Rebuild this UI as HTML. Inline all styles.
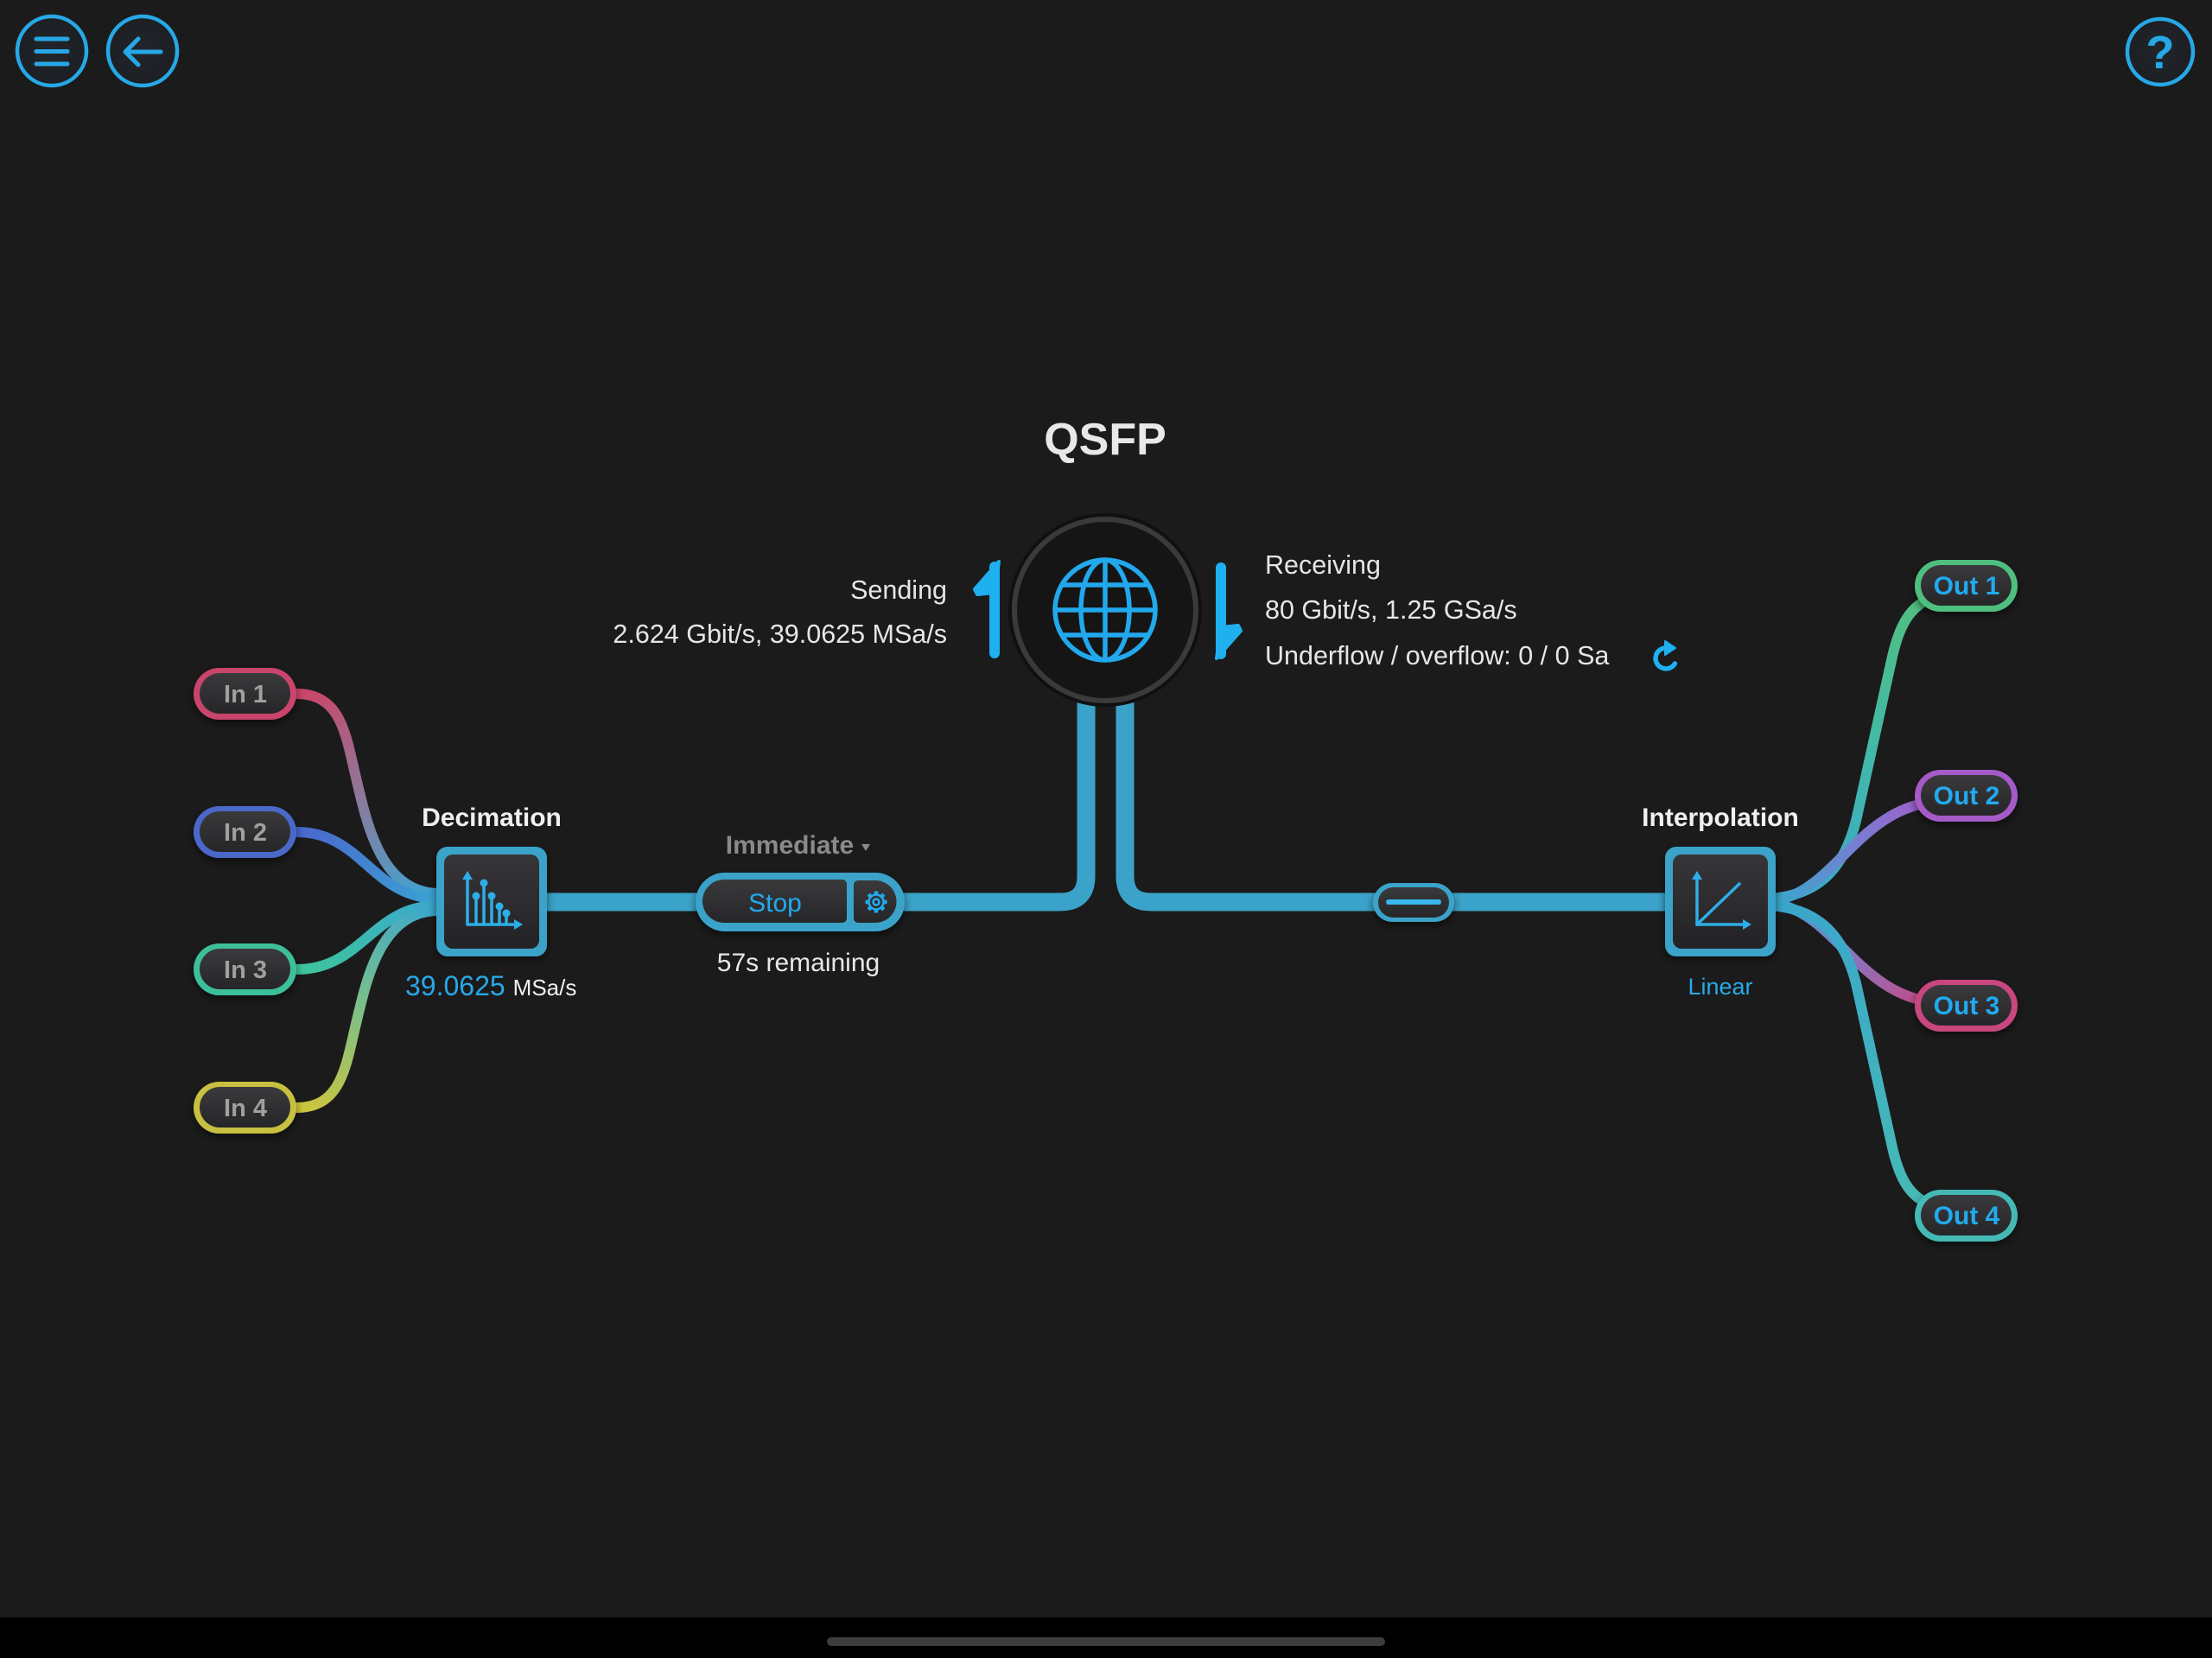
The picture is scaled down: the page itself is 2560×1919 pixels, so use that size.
<!DOCTYPE html>
<html>
<head>
<meta charset="utf-8">
<style>
  html,body{margin:0;padding:0;background:#1b1b1b;}
  body{width:2560px;height:1919px;overflow:hidden;}
  svg{display:block;}
  text{font-family:"Liberation Sans", Arial, sans-serif;}
</style>
</head>
<body>
<svg width="2560" height="1919" viewBox="0 0 2560 1919" xmlns="http://www.w3.org/2000/svg">
  <defs>
    <linearGradient id="innerDark" x1="0" y1="0" x2="0" y2="1">
      <stop offset="0" stop-color="#373538"/>
      <stop offset="1" stop-color="#232225"/>
    </linearGradient>
    <linearGradient id="pillDark" x1="0" y1="0" x2="0" y2="1">
      <stop offset="0" stop-color="#3a3a3c"/>
      <stop offset="1" stop-color="#262628"/>
    </linearGradient>
    <radialGradient id="btnFill" cx="0.5" cy="0.5" r="0.5">
      <stop offset="0" stop-color="#22262c"/>
      <stop offset="1" stop-color="#1c1f23"/>
    </radialGradient>
    <filter id="sh" x="-30%" y="-30%" width="160%" height="170%">
      <feDropShadow dx="0" dy="4" stdDeviation="5" flood-color="#000" flood-opacity="0.55"/>
    </filter>

    <linearGradient id="gIn1" gradientUnits="userSpaceOnUse" x1="343" y1="803" x2="505" y2="1038">
      <stop offset="0" stop-color="#cc4468"/>
      <stop offset="0.5" stop-color="#8c7a9c"/>
      <stop offset="1" stop-color="#3aa6d2"/>
    </linearGradient>
    <linearGradient id="gIn2" gradientUnits="userSpaceOnUse" x1="343" y1="963" x2="505" y2="1040">
      <stop offset="0" stop-color="#4a66cc"/>
      <stop offset="1" stop-color="#3aa2d4"/>
    </linearGradient>
    <linearGradient id="gIn3" gradientUnits="userSpaceOnUse" x1="343" y1="1122" x2="505" y2="1048">
      <stop offset="0" stop-color="#3ec69a"/>
      <stop offset="1" stop-color="#3aa8cc"/>
    </linearGradient>
    <linearGradient id="gIn4" gradientUnits="userSpaceOnUse" x1="343" y1="1282" x2="505" y2="1054">
      <stop offset="0" stop-color="#cfc63a"/>
      <stop offset="0.5" stop-color="#7cbf8a"/>
      <stop offset="1" stop-color="#3aa8cc"/>
    </linearGradient>

    <linearGradient id="gOut1" gradientUnits="userSpaceOnUse" x1="2055" y1="1043" x2="2235" y2="690">
      <stop offset="0" stop-color="#3aa6cc"/>
      <stop offset="0.5" stop-color="#42b8aa"/>
      <stop offset="1" stop-color="#52c07e"/>
    </linearGradient>
    <linearGradient id="gOut2" gradientUnits="userSpaceOnUse" x1="2055" y1="1042" x2="2240" y2="928">
      <stop offset="0" stop-color="#3aa6cc"/>
      <stop offset="0.55" stop-color="#7a7cd2"/>
      <stop offset="1" stop-color="#a55ac8"/>
    </linearGradient>
    <linearGradient id="gOut3" gradientUnits="userSpaceOnUse" x1="2055" y1="1046" x2="2240" y2="1160">
      <stop offset="0" stop-color="#3aa6cc"/>
      <stop offset="0.5" stop-color="#8a74c0"/>
      <stop offset="1" stop-color="#c8467e"/>
    </linearGradient>
    <linearGradient id="gOut4" gradientUnits="userSpaceOnUse" x1="2055" y1="1048" x2="2240" y2="1396">
      <stop offset="0" stop-color="#3aa6cc"/>
      <stop offset="1" stop-color="#46bab4"/>
    </linearGradient>
  </defs>

  <rect x="0" y="0" width="2560" height="1919" fill="#1b1b1b"/>
  <rect x="0" y="1872" width="2560" height="47" fill="#000"/>
  <rect x="957" y="1895" width="646" height="10" rx="5" fill="#3d3d3d"/>

  <circle cx="60" cy="59" r="40" fill="url(#btnFill)" stroke="#27a8e6" stroke-width="4.5"/>
  <g stroke="#27a8e6" stroke-width="5" stroke-linecap="round">
    <line x1="42" y1="45" x2="78" y2="45"/>
    <line x1="42" y1="59.5" x2="78" y2="59.5"/>
    <line x1="42" y1="74" x2="78" y2="74"/>
  </g>
  <circle cx="165" cy="59" r="40" fill="url(#btnFill)" stroke="#27a8e6" stroke-width="4.5"/>
  <g stroke="#27a8e6" stroke-width="5" stroke-linecap="round" stroke-linejoin="round" fill="none">
    <line x1="146" y1="60" x2="186" y2="60"/>
    <polyline points="160,45 145,60 160,75"/>
  </g>
  <circle cx="2500" cy="60" r="38" fill="url(#btnFill)" stroke="#27a8e6" stroke-width="4.5"/>
  <text x="2500" y="79" text-anchor="middle" font-size="54" font-weight="bold" fill="#27a8e6">?</text>

  <text x="1279" y="526" text-anchor="middle" font-size="52" font-weight="bold" fill="#e8e8e8">QSFP</text>

  <g fill="none" stroke="#3ba3c9" stroke-width="21">
    <path d="M 1257 790 L 1257 1014 Q 1257 1044 1227 1044 L 630 1044"/>
    <path d="M 1302 790 L 1302 1014 Q 1302 1044 1332 1044 L 1930 1044"/>
  </g>

  <circle cx="1279" cy="706" r="110" fill="none" stroke="#101010" stroke-width="4"/>
  <circle cx="1279" cy="706" r="105" fill="#151515" stroke="#3a3a3b" stroke-width="6"/>
  <g fill="none" stroke="#22a8ec" stroke-width="5.5">
    <circle cx="1279" cy="706" r="58"/>
    <ellipse cx="1279" cy="706" rx="28" ry="58"/>
    <line x1="1279" y1="648" x2="1279" y2="764"/>
    <line x1="1221" y1="706" x2="1337" y2="706"/>
    <line x1="1230" y1="677" x2="1328" y2="677"/>
    <line x1="1230" y1="735" x2="1328" y2="735"/>
  </g>

  <g fill="#1fb0f0" stroke="#1fb0f0" stroke-linejoin="round" stroke-linecap="round">
    <line x1="1151" y1="656" x2="1151" y2="756" stroke-width="12"/>
    <polygon points="1156,650 1128,682 1131,688 1151,686" stroke-width="4"/>
    <line x1="1413" y1="657" x2="1413" y2="757" stroke-width="12"/>
    <polygon points="1408,762 1436,730 1433,724 1413,726" stroke-width="4"/>
  </g>

  <text x="1096" y="693" text-anchor="end" font-size="30.5" fill="#e6e6e6">Sending</text>
  <text x="1096" y="744" text-anchor="end" font-size="30.5" fill="#e6e6e6">2.624 Gbit/s, 39.0625 MSa/s</text>

  <text x="1464" y="664" font-size="30.5" fill="#e6e6e6">Receiving</text>
  <text x="1464" y="716" font-size="30.5" fill="#e6e6e6">80 Gbit/s, 1.25 GSa/s</text>
  <text x="1464" y="769" font-size="30.5" fill="#e6e6e6">Underflow / overflow: 0 / 0 Sa</text>

  <g fill="none" stroke="#1fb0f0" stroke-width="5.5" stroke-linecap="round">
    <path d="M 1938.4 768 A 12 12 0 1 1 1929 750"/>
  </g>
  <polygon points="1927,742 1927,758 1939,750" fill="#1fb0f0" stroke="#1fb0f0" stroke-width="2" stroke-linejoin="round"/>

  <g fill="none" stroke-width="12" stroke-linecap="round">
    <path d="M 343 803 C 395 803 400 850 412 900 S 440 1034 508 1034" stroke="url(#gIn1)"/>
    <path d="M 343 963 C 420 963 430 1040 508 1040" stroke="url(#gIn2)"/>
    <path d="M 343 1122 C 420 1122 430 1048 508 1048" stroke="url(#gIn3)"/>
    <path d="M 343 1282 C 395 1282 400 1235 412 1185 S 440 1054 508 1054" stroke="url(#gIn4)"/>
  </g>

  <g fill="none" stroke-width="12" stroke-linecap="round">
    <path d="M 2050 1040 C 2110 1035 2135 1000 2148 950 L 2190 760 C 2198 725 2210 700 2240 690" stroke="url(#gOut1)"/>
    <path d="M 2050 1042 C 2120 1038 2150 935 2240 928" stroke="url(#gOut2)"/>
    <path d="M 2050 1046 C 2120 1050 2150 1153 2240 1160" stroke="url(#gOut3)"/>
    <path d="M 2050 1048 C 2110 1053 2135 1088 2148 1138 L 2190 1328 C 2198 1363 2210 1388 2240 1396" stroke="url(#gOut4)"/>
  </g>

  <g filter="url(#sh)">
    <rect x="224" y="773" width="119" height="60" rx="30" fill="#c9446c"/>
    <rect x="224" y="933" width="119" height="60" rx="30" fill="#4a68c8"/>
    <rect x="224" y="1092" width="119" height="60" rx="30" fill="#3ec09a"/>
    <rect x="224" y="1252" width="119" height="60" rx="30" fill="#c8c040"/>
  </g>
  <g fill="url(#pillDark)">
    <rect x="231" y="779" width="105" height="47" rx="23.5"/>
    <rect x="231" y="939" width="105" height="47" rx="23.5"/>
    <rect x="231" y="1098" width="105" height="47" rx="23.5"/>
    <rect x="231" y="1258" width="105" height="47" rx="23.5"/>
  </g>
  <g font-size="29" font-weight="bold" fill="#a0a0a0" text-anchor="middle">
    <text x="284" y="813">In 1</text>
    <text x="284" y="973">In 2</text>
    <text x="284" y="1132">In 3</text>
    <text x="284" y="1292">In 4</text>
  </g>

  <g filter="url(#sh)">
    <rect x="2216" y="648" width="119" height="60" rx="30" fill="#4fbf7f"/>
    <rect x="2216" y="891" width="119" height="60" rx="30" fill="#a55ac8"/>
    <rect x="2216" y="1134" width="119" height="60" rx="30" fill="#c8467e"/>
    <rect x="2216" y="1377" width="119" height="60" rx="30" fill="#45b9b5"/>
  </g>
  <g fill="url(#pillDark)">
    <rect x="2223" y="654" width="105" height="47" rx="23.5"/>
    <rect x="2223" y="897" width="105" height="47" rx="23.5"/>
    <rect x="2223" y="1140" width="105" height="47" rx="23.5"/>
    <rect x="2223" y="1383" width="105" height="47" rx="23.5"/>
  </g>
  <g font-size="30" font-weight="bold" fill="#22aaee" text-anchor="middle">
    <text x="2276" y="688">Out 1</text>
    <text x="2276" y="931">Out 2</text>
    <text x="2276" y="1174">Out 3</text>
    <text x="2276" y="1417">Out 4</text>
  </g>

  <text x="569" y="956" text-anchor="middle" font-size="30" font-weight="bold" fill="#f0f0f0">Decimation</text>
  <rect x="505" y="980" width="128" height="127" rx="13" fill="#3ba3c9" filter="url(#sh)"/>
  <rect x="514" y="989" width="110" height="109" rx="10" fill="url(#innerDark)"/>
  <g stroke="#2eaee8" stroke-width="3.5" fill="none" stroke-linecap="round">
    <line x1="541" y1="1014" x2="541" y2="1070"/>
    <line x1="541" y1="1070" x2="598" y2="1070"/>
    <line x1="551" y1="1037" x2="551" y2="1070"/>
    <line x1="560" y1="1022" x2="560" y2="1070"/>
    <line x1="569" y1="1037" x2="569" y2="1070"/>
    <line x1="578" y1="1049" x2="578" y2="1070"/>
    <line x1="586" y1="1057" x2="586" y2="1070"/>
  </g>
  <g fill="#2eaee8">
    <polygon points="541,1008 535,1018 547,1018"/>
    <polygon points="605,1070 595,1064 595,1076"/>
    <circle cx="551" cy="1037" r="4.5"/>
    <circle cx="560" cy="1022" r="4.5"/>
    <circle cx="569" cy="1037" r="4.5"/>
    <circle cx="578" cy="1049" r="4.5"/>
    <circle cx="586" cy="1057" r="4.5"/>
  </g>
  <text x="469" y="1152" font-size="32" fill="#27a9e8">39.0625<tspan font-size="26" fill="#f0f0f0" dx="9">MSa/s</tspan></text>

  <text x="914" y="988" text-anchor="middle" font-size="30" font-weight="bold" fill="#8a8a8a">Immediate</text>
  <polygon points="997,977 1007,977 1002,985" fill="#8a8a8a"/>
  <rect x="805" y="1010" width="242" height="68" rx="34" fill="#3ba3c9" filter="url(#sh)"/>
  <path d="M 838 1018 H 974 Q 980 1018 980 1024 V 1062 Q 980 1068 974 1068 H 838 A 25 25 0 0 1 838 1018 Z" fill="url(#pillDark)"/>
  <path d="M 994 1019 H 1013 A 24.5 24.5 0 0 1 1013 1068 H 994 Q 988 1068 988 1062 V 1025 Q 988 1019 994 1019 Z" fill="url(#pillDark)"/>
  <text x="897" y="1055" text-anchor="middle" font-size="30" fill="#22aaee">Stop</text>
  <g transform="translate(1014,1044)" stroke="#22aaee" fill="none" stroke-width="2.6">
    <circle r="8.5"/>
    <circle r="3.5"/>
    <g stroke-width="4.5" stroke-linecap="butt">
      <line x1="0" y1="-8" x2="0" y2="-12.5"/>
      <line x1="0" y1="-8" x2="0" y2="-12.5" transform="rotate(45)"/>
      <line x1="0" y1="-8" x2="0" y2="-12.5" transform="rotate(90)"/>
      <line x1="0" y1="-8" x2="0" y2="-12.5" transform="rotate(135)"/>
      <line x1="0" y1="-8" x2="0" y2="-12.5" transform="rotate(180)"/>
      <line x1="0" y1="-8" x2="0" y2="-12.5" transform="rotate(225)"/>
      <line x1="0" y1="-8" x2="0" y2="-12.5" transform="rotate(270)"/>
      <line x1="0" y1="-8" x2="0" y2="-12.5" transform="rotate(315)"/>
    </g>
  </g>
  <text x="924" y="1124" text-anchor="middle" font-size="30" fill="#e8e8e8">57s remaining</text>

  <rect x="1589" y="1022" width="94" height="45" rx="22.5" fill="#3ba3c9" filter="url(#sh)"/>
  <rect x="1595" y="1027" width="82" height="35" rx="17.5" fill="url(#pillDark)"/>
  <line x1="1607" y1="1044" x2="1665" y2="1044" stroke="#38b6ee" stroke-width="6" stroke-linecap="round"/>

  <text x="1991" y="956" text-anchor="middle" font-size="30" font-weight="bold" fill="#f0f0f0">Interpolation</text>
  <rect x="1927" y="980" width="128" height="127" rx="13" fill="#3ba3c9" filter="url(#sh)"/>
  <rect x="1936" y="989" width="110" height="109" rx="10" fill="url(#innerDark)"/>
  <g stroke="#2eaee8" stroke-width="3.5" fill="none" stroke-linecap="round">
    <line x1="1964" y1="1014" x2="1964" y2="1070"/>
    <line x1="1964" y1="1070" x2="2020" y2="1070"/>
    <line x1="1964" y1="1070" x2="2013" y2="1023"/>
  </g>
  <g fill="#2eaee8">
    <polygon points="1964,1008 1958,1018 1970,1018"/>
    <polygon points="2027,1070 2017,1064 2017,1076"/>
  </g>
  <text x="1991" y="1151" text-anchor="middle" font-size="27" fill="#27a9e8">Linear</text>
</svg>
</body>
</html>
